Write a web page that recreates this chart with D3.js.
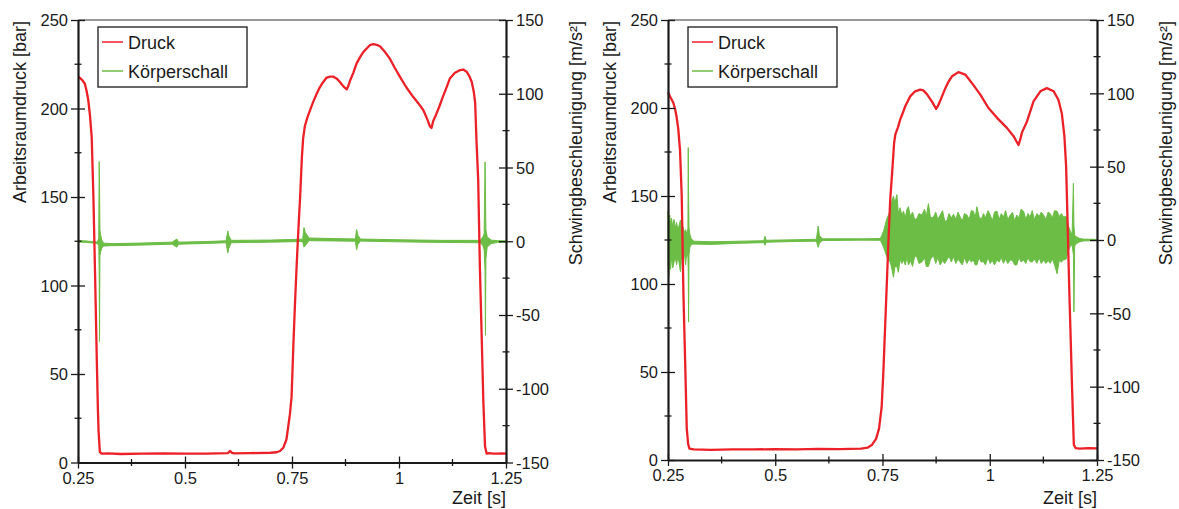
<!DOCTYPE html>
<html>
<head>
<meta charset="utf-8">
<script src="https://cdn.jsdelivr.net/npm/d3@7"></script>
<style>
  body { margin: 0; background: #fff; }
  svg text { font-family: Arial, "Liberation Sans", sans-serif; fill: #1a1a1a; }
</style>
</head>
<body>
<svg id="chart" width="1179" height="509"></svg>
<script>
// Tick values
var xTicks = [0.25, 0.5, 0.75, 1, 1.25]
var xMinor = [0.375, 0.625, 0.875, 1.125]
var druckTicks = [0, 50, 100, 150, 200, 250]
var druckMinor = [25, 75, 125, 175, 225]
var schallTicks = [-150, -100, -50, 0, 50, 100, 150]
var schallMinor = [-125, -75, -25, 25, 75, 125]

var seriesNames = ["Druck", "Körperschall"]
var xTitle = "Zeit [s]"
var leftTitle = "Arbeitsraumdruck [bar]"
var rightTitle = "Schwingbeschleunigung [m/s²]"

// Left chart - Druck [bar]
var leftTime = [0.25, 0.253, 0.26, 0.266, 0.27, 0.274, 0.278, 0.282, 0.286, 0.29, 0.294, 0.2965, 0.298, 0.301, 0.305,
  0.32, 0.35, 0.4, 0.45, 0.5, 0.55, 0.6, 0.605, 0.61, 0.615, 0.65, 0.7, 0.714, 0.722, 0.73, 0.737, 0.741, 0.745, 0.749,
  0.753, 0.757, 0.761, 0.765, 0.769, 0.773, 0.776, 0.78, 0.786, 0.792, 0.8, 0.808, 0.815, 0.823, 0.831, 0.839, 0.846,
  0.854, 0.862, 0.87, 0.878, 0.882, 0.886, 0.893, 0.901, 0.909, 0.917, 0.925, 0.933, 0.94, 0.948, 0.956, 0.967, 0.979,
  0.99, 1.002, 1.017, 1.033, 1.045, 1.057, 1.066, 1.072, 1.076, 1.08, 1.084, 1.094, 1.104, 1.112, 1.119, 1.13, 1.143,
  1.15, 1.158, 1.165, 1.17, 1.175, 1.178, 1.181, 1.185, 1.189, 1.193, 1.197, 1.201, 1.205, 1.21, 1.22, 1.23, 1.24, 1.25]
var leftDruck = [217.5, 217.6, 216, 214, 210, 204.8, 196, 184, 150, 105, 57, 30, 18, 6, 5,
  5.2, 4.8, 5, 5.2, 5, 5, 5.3, 6.5, 5.5, 5.2, 5.3, 5.5, 5.8, 6.5, 8.5, 13, 20, 27, 37,
  65, 90, 112, 132, 150, 172, 183, 190, 195, 199, 204, 208.5, 212, 215, 217.5, 218, 218,
  217, 215, 212.5, 210.8, 213, 216, 220, 225.5, 229, 232, 234, 236, 236.4, 236, 235, 232, 228,
  223, 218, 212, 206.6, 203, 199, 194, 190, 189, 193, 195, 201, 207.6, 212.5, 217, 220, 221.7,
  222, 220.8, 218, 215, 209, 203, 182, 160, 110, 73, 35, 9, 5, 5.3, 5, 5, 5.2, 5]

// Left chart - Körperschall envelope [m/s²]
var leftKsTime = [0.25, 0.27, 0.285, 0.295, 0.2985, 0.2995, 0.3003, 0.3012, 0.303, 0.306, 0.31, 0.33, 0.4, 0.47,
  0.478, 0.481, 0.485, 0.55, 0.596, 0.6, 0.602, 0.608, 0.7, 0.775, 0.778, 0.781, 0.79, 0.85, 0.898, 0.901, 0.904,
  0.91, 1.0, 1.1, 1.19, 1.196, 1.199, 1.201, 1.202, 1.203, 1.206, 1.215, 1.23, 1.25]
var leftKsHi = [0.5, 0.2, -0.3, -0.5, 2, 54, 40, 8, 4, 0.5, -1.3, -1.6, -1.2, -0.6,
  1, 1.5, -0.6, -0.2, 0.3, 7, 4, 0.6, 0.8, 1.4, 9.3, 6, 2.2, 1.8, 1.6, 8, 4,
  1.5, 1, 0.6, 0.6, 3, 5, 53.8, 35, 8, 3, 0.8, 0.4, 0.3]
var leftKsLo = [-0.5, -0.8, -1.2, -1.5, -3, -20, -68, -10, -7, -4.5, -3.2, -3, -2.6, -2,
  -3.5, -4, -2, -1.5, -1, -8, -5, -1, -0.6, -0.2, -4, -3, 0.4, 0.2, 0, -5.7, -2,
  0.1, -0.4, -0.8, -1, -3, -6, -20, -63.8, -12, -4, -1.6, -0.8, -0.6]

// Right chart - Druck [bar]
var rightTime = [0.25, 0.256, 0.2624, 0.266, 0.27, 0.274, 0.278, 0.282, 0.286, 0.29, 0.2937, 0.297, 0.3, 0.31,
  0.35, 0.4, 0.45, 0.5, 0.55, 0.6, 0.65, 0.7, 0.715, 0.725, 0.735, 0.742, 0.748, 0.752, 0.756, 0.76, 0.764, 0.768,
  0.7735, 0.777, 0.78, 0.786, 0.7912, 0.797, 0.803, 0.8145, 0.826, 0.838, 0.845, 0.853, 0.865, 0.875, 0.879, 0.884,
  0.896, 0.904, 0.912, 0.927, 0.943, 0.962, 0.978, 0.997, 1.017, 1.04, 1.0555, 1.067, 1.071, 1.075, 1.087, 1.102,
  1.118, 1.133, 1.149, 1.16, 1.168, 1.174, 1.178, 1.182, 1.185, 1.188, 1.192, 1.196, 1.2, 1.21, 1.23, 1.25]
var rightDruck = [209, 206, 203, 200, 195, 188, 176, 150, 94, 56, 18, 9, 6.5, 6,
  5.8, 6, 6, 6.2, 6, 6.3, 6.2, 6.5, 7, 8.5, 12, 18, 30, 50, 75, 100, 125, 148,
  167, 180, 185, 189, 193.4, 197, 201, 206.6, 209.5, 210.4, 210, 208, 203.8, 199.5, 201, 203.8,
  211, 215, 218, 220.4, 219, 213, 207.6, 200, 194.4, 188.7, 184, 179, 182, 186, 192.5, 203.8,
  209.5, 211.3, 209.5, 204.7, 197, 184, 167, 130, 100, 74.6, 40, 8.7, 6.8, 6.5, 6.8, 6.6]

// Right chart - Körperschall envelope [m/s²]
var rightKsTime = [0.25, 0.252, 0.254, 0.256, 0.258, 0.261, 0.264, 0.267, 0.27, 0.273, 0.276, 0.279, 0.282, 0.285,
  0.288, 0.291, 0.294, 0.2965, 0.2972, 0.298, 0.299, 0.301, 0.304, 0.31, 0.35, 0.42, 0.473, 0.476, 0.479, 0.55,
  0.596, 0.6, 0.603, 0.61, 0.7, 0.745, 0.748, 0.752, 0.756, 0.76, 0.764, 0.768, 0.772, 0.7755, 0.779, 0.7835, 0.787,
  0.791, 0.795, 0.799, 0.803, 0.807, 0.8105, 0.815, 0.82, 0.825, 0.83, 0.835, 0.842, 0.848, 0.852, 0.857, 0.862,
  0.869, 0.874, 0.879, 0.8845, 0.89, 0.895, 0.9, 0.905, 0.9105, 0.9155, 0.921, 0.926, 0.931, 0.936, 0.941, 0.947,
  0.952, 0.957, 0.962, 0.966, 0.97, 0.975, 0.98, 0.9855, 0.99, 0.996, 1.001, 1.006, 1.011, 1.017, 1.022, 1.027,
  1.032, 1.037, 1.042, 1.048, 1.053, 1.058, 1.063, 1.068, 1.073, 1.079, 1.084, 1.089, 1.094, 1.099, 1.104, 1.11,
  1.115, 1.12, 1.1255, 1.131, 1.136, 1.141, 1.146, 1.151, 1.157, 1.162, 1.167, 1.172, 1.178, 1.184, 1.188, 1.192,
  1.195, 1.1962, 1.198, 1.203, 1.21, 1.219, 1.25]
var rightKsHi = [19.6, 12, 17, 10, 15, 9, 14, 8, 12, 7, 10, 13.6, 6, 9,
  5, 7, 4, 8, 63, 30, 8, 4, 1, -0.8, -1.2, -0.8, -0.5, 2.5, -0.2, 0.2,
  0.5, 9.5, 3, 0.8, 0.8, 1, 3, 5.6, 10, 14.5, 17, 20, 27, 30, 25, 31, 18,
  22, 17, 19.6, 15, 21, 22.7, 16, 19, 14, 14.5, 18, 17, 21, 16, 24.8, 15,
  15.7, 19, 14, 17, 20, 13, 13, 18, 15, 17.5, 14, 19, 15.7, 13, 18, 17,
  14, 20, 19.6, 15, 22.7, 16, 14, 18, 15, 20, 17, 13, 19, 19.6, 14, 18,
  15.7, 20, 14, 17, 19, 13, 17, 15, 21, 19.6, 14, 18, 15.7, 20, 14, 18,
  16, 19, 17, 14, 19, 18, 15, 20, 19.6, 16, 18, 15.7, 16, 9, 6, 3.4,
  38.6, 10, 3, 2, 1, 0.6, 0.4]
var rightKsLo = [-18, -25, -14, -20, -12, -19, -15, -12, -17, -11, -16, -21.6, -10, -14,
  -8, -17, -7, -12, -20, -56, -10, -5, -3, -2.8, -3, -2.2, -1.8, -3.5, -1.5, -1,
  -0.8, -5, -2, -0.4, -0.1, -0.2, -2, -4.6, -8, -11.4, -14, -15, -20, -25.4, -18, -18, -22,
  -13, -16, -13.6, -17, -12, -17, -14, -18, -11, -11.4, -16, -15, -12, -18, -18, -13,
  -10.7, -16, -12, -17, -14, -16, -13.6, -11, -15, -11.4, -16, -13, -15, -17, -12, -16,
  -13, -15, -13.6, -17, -17, -12, -15, -14.8, -17, -12, -16, -14, -17, -13.6, -15, -12,
  -15.9, -13, -16, -13.6, -14, -17, -17, -12, -15, -13.6, -16, -12, -14.8, -15, -13, -15.9,
  -12, -16, -13.6, -16, -14, -15.9, -13, -17, -23, -14, -15, -13.6, -13, -6.8, -4, -3.4,
  -10, -49, -4, -2.3, -1.2, -0.6, -0.4]

var red = "#ec2027"
var green = "#6cbd45"

var svg = d3.select("#chart")

makeChart({left: 78, right: 506, top: 20, bottom: 462.5, titleX: 26, rightTitleX: 582},
  leftTime, leftDruck, leftKsTime, leftKsHi, leftKsLo)
makeChart({left: 668, right: 1097, top: 20, bottom: 460, titleX: 616, rightTitleX: 1172},
  rightTime, rightDruck, rightKsTime, rightKsHi, rightKsLo)

function makeChart(box, time, druck, ksTime, ksHi, ksLo) {
  var x = d3.scaleLinear().domain([0.25, 1.25]).range([box.left, box.right])
  var yL = d3.scaleLinear().domain([0, 250]).range([box.bottom, box.top])
  var yR = d3.scaleLinear().domain([-150, 150]).range([box.bottom, box.top])

  var g = svg.append("g")

  //top frame line
  g.append("line")
    .attr("x1", box.left).attr("x2", box.right)
    .attr("y1", box.top).attr("y2", box.top)
    .attr("stroke", "#333").attr("stroke-width", 1.2)

  //Körperschall as a filled envelope
  var ks = ksTime.map((t, i) => ({t: t, hi: ksHi[i], lo: ksLo[i]}))
  g.append("path")
    .datum(ks)
    .attr("fill", green)
    .attr("stroke", green)
    .attr("stroke-width", 1)
    .attr("stroke-linejoin", "round")
    .attr("d", d3.area()
      .x(d => x(d.t))
      .y0(d => yR(d.lo))
      .y1(d => yR(d.hi)))

  //Druck
  var dr = time.map((t, i) => ({t: t, v: druck[i]}))
  g.append("path")
    .datum(dr)
    .attr("fill", "none")
    .attr("stroke", red)
    .attr("stroke-width", 2.3)
    .attr("stroke-linejoin", "round")
    .attr("d", d3.line().x(d => x(d.t)).y(d => yL(d.v)))

  //Axes
  var fmt = d => String(d)
  var xAxis = g.append("g")
    .attr("transform", `translate(0,${box.bottom})`)
    .call(d3.axisBottom(x).tickValues(xTicks).tickFormat(fmt).tickSizeOuter(0))
  xAxis.selectAll(".tick line").attr("y1", -6).attr("y2", 6)
  xAxis.selectAll(".tick text").attr("y", 21).attr("dy", null)
  xAxis.append("g").selectAll("line")
    .data(xMinor).enter().append("line")
    .attr("x1", d => x(d)).attr("x2", d => x(d))
    .attr("y1", -3.5).attr("y2", 3.5)

  var lAxis = g.append("g")
    .attr("transform", `translate(${box.left},0)`)
    .call(d3.axisLeft(yL).tickValues(druckTicks).tickFormat(fmt).tickSizeOuter(0))
  lAxis.selectAll(".tick line").attr("x1", -7).attr("x2", 7)
  lAxis.selectAll(".tick text").attr("x", -10).attr("dy", "0.35em")
  lAxis.append("g").selectAll("line")
    .data(druckMinor).enter().append("line")
    .attr("y1", d => yL(d)).attr("y2", d => yL(d))
    .attr("x1", -3.5).attr("x2", 3.5)

  var rAxis = g.append("g")
    .attr("transform", `translate(${box.right},0)`)
    .call(d3.axisRight(yR).tickValues(schallTicks).tickFormat(fmt).tickSizeOuter(0))
  rAxis.selectAll(".tick line").attr("x1", -7).attr("x2", 7)
  rAxis.selectAll(".tick text").attr("x", 10).attr("dy", "0.35em")
  rAxis.append("g").selectAll("line")
    .data(schallMinor).enter().append("line")
    .attr("y1", d => yR(d)).attr("y2", d => yR(d))
    .attr("x1", -3.5).attr("x2", 3.5)

  ;[xAxis, lAxis, rAxis].forEach(a => {
    a.select(".domain").attr("stroke", "#1a1a1a").attr("stroke-width", 2.2)
    a.selectAll("line").attr("stroke", "#1a1a1a").attr("stroke-width", 1.3)
    a.selectAll(".tick text").style("font-size", "16.5px").attr("fill", "#1a1a1a")
  })

  //Titles
  g.append("text")
    .attr("x", box.right).attr("y", 504)
    .attr("text-anchor", "end")
    .style("font-size", "18px")
    .text(xTitle)

  g.append("text")
    .attr("transform", `translate(${box.titleX},${box.top + 1}) rotate(-90)`)
    .attr("text-anchor", "end")
    .style("font-size", "18px")
    .text(leftTitle)

  g.append("text")
    .attr("transform", `translate(${box.rightTitleX},${box.top + 1}) rotate(-90)`)
    .attr("text-anchor", "end")
    .style("font-size", "18px")
    .text(rightTitle)

  //Legend
  var lg = g.append("g").attr("transform", `translate(${box.left + 20},${box.top + 7})`)
  lg.append("rect")
    .attr("width", 149).attr("height", 60)
    .attr("fill", "#fff").attr("stroke", "#1a1a1a").attr("stroke-width", 1.3)
  var colors = [red, green]
  seriesNames.forEach((name, i) => {
    lg.append("line")
      .attr("x1", 4).attr("x2", 25)
      .attr("y1", 15 + i * 29).attr("y2", 15 + i * 29)
      .attr("stroke", colors[i]).attr("stroke-width", 1.5)
    lg.append("text")
      .attr("x", 30).attr("y", 21.5 + i * 29)
      .style("font-size", "18px")
      .text(name)
  })
}
</script>
</body>
</html>
